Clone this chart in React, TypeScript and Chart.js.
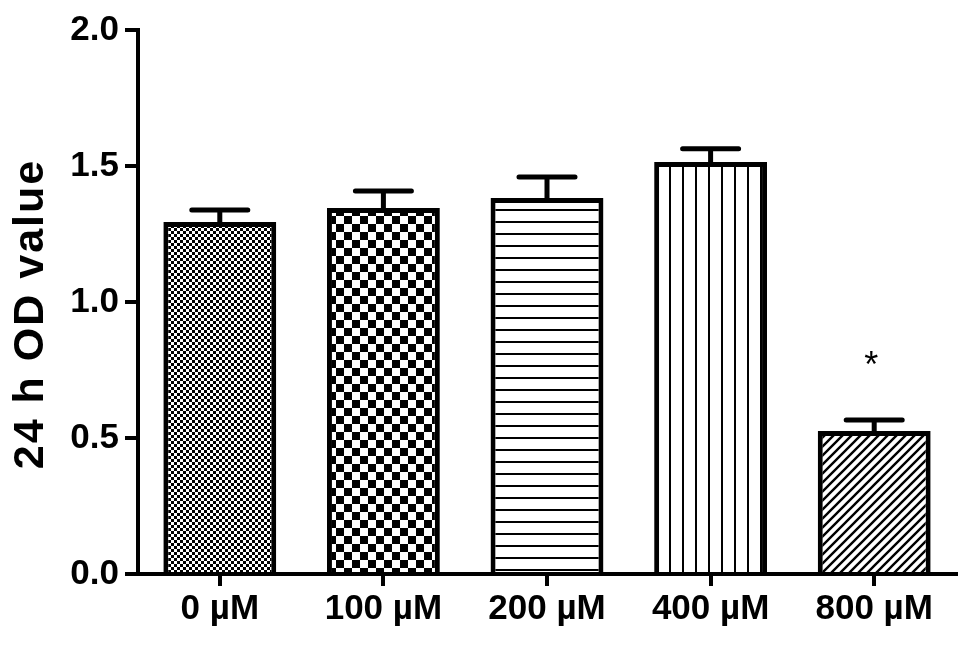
import React, { useEffect, useRef } from "react";
import { Chart, registerables } from "chart.js";

Chart.register(...registerables);

const categories = ["0 µM", "100 µM", "200 µM", "400 µM", "800 µM"];
const means = [1.294, 1.346, 1.382, 1.515, 0.526];
const sems = [0.044, 0.062, 0.078, 0.048, 0.04];
const marks = ["", "", "", "", "*"];
const yMin = 0;
const yMax = 2.0;
const yStep = 0.5;
const yTitle = "24 h OD value";

const FONT = "'Liberation Sans', Arial, sans-serif";

function makePattern(kind: number): CanvasPattern | string {
  const c = document.createElement("canvas");
  const ctx = c.getContext("2d")!;
  if (kind === 0) {
    c.width = 6; c.height = 6;
    ctx.fillStyle = "#fff"; ctx.fillRect(0, 0, 6, 6);
    ctx.fillStyle = "#000";
    ctx.fillRect(0, 0, 3, 3);
    ctx.fillRect(3, 3, 3, 3);
  } else if (kind === 1) {
    c.width = 16; c.height = 16;
    ctx.fillStyle = "#fff"; ctx.fillRect(0, 0, 16, 16);
    ctx.fillStyle = "#000";
    ctx.fillRect(0, 0, 8, 8);
    ctx.fillRect(8, 8, 8, 8);
  } else if (kind === 2) {
    c.width = 12; c.height = 12;
    ctx.fillStyle = "#fff"; ctx.fillRect(0, 0, 12, 12);
    ctx.fillStyle = "#000";
    ctx.fillRect(0, 5, 12, 2);
  } else if (kind === 3) {
    c.width = 13; c.height = 13;
    ctx.fillStyle = "#fff"; ctx.fillRect(0, 0, 13, 13);
    ctx.fillStyle = "#000";
    ctx.fillRect(6, 0, 2, 13);
  } else {
    const s = 9;
    c.width = s; c.height = s;
    ctx.fillStyle = "#fff"; ctx.fillRect(0, 0, s, s);
    ctx.strokeStyle = "#000";
    ctx.lineWidth = 2.4;
    ctx.beginPath();
    for (let k = -1; k <= 1; k++) {
      ctx.moveTo(k * s - 1, s + 1);
      ctx.lineTo(k * s + s + 1, -1);
    }
    ctx.stroke();
  }
  const p = ctx.createPattern(c, "repeat");
  return p || "#888";
}

const errorBarPlugin = {
  id: "errorBars",
  afterDatasetsDraw(chart: any) {
    const ctx = chart.ctx;
    const meta = chart.getDatasetMeta(0);
    const yScale = chart.scales.y;
    ctx.save();
    ctx.strokeStyle = "#000";
    ctx.lineWidth = 5;
    ctx.lineCap = "round";
    meta.data.forEach((el: any, i: number) => {
      const x = el.x;
      const yTop = yScale.getPixelForValue(means[i]);
      const yErr = yScale.getPixelForValue(means[i] + sems[i]);
      ctx.beginPath();
      ctx.moveTo(x, yTop);
      ctx.lineTo(x, yErr);
      ctx.moveTo(x - 28, yErr);
      ctx.lineTo(x + 28, yErr);
      ctx.stroke();
      if (marks[i]) {
        ctx.fillStyle = "#000";
        ctx.font = `normal 36px ${FONT}`;
        ctx.textAlign = "center";
        ctx.textBaseline = "alphabetic";
        ctx.fillText(marks[i], x - 3, yErr - 43);
      }
    });
    ctx.restore();
  },
};

const yTitlePlugin = {
  id: "yTitleText",
  afterDraw(chart: any) {
    const ctx = chart.ctx;
    const yScale = chart.scales.y;
    const cy = (yScale.top + yScale.bottom) / 2 + 13;
    ctx.save();
    ctx.translate(43, cy);
    ctx.rotate(-Math.PI / 2);
    ctx.fillStyle = "#000";
    ctx.font = `bold 43px ${FONT}`;
    try { (ctx as any).letterSpacing = "2px"; } catch (e) {}
    ctx.textAlign = "center";
    ctx.textBaseline = "alphabetic";
    ctx.fillText(yTitle, 1, 0);
    ctx.restore();
  },
};

export default function App() {
  const ref = useRef<HTMLCanvasElement>(null);
  useEffect(() => {
    if (!ref.current) return;
    const patterns = categories.map((_, i) => makePattern(i));
    const chart = new Chart(ref.current, {
      type: "bar",
      data: {
        labels: categories,
        datasets: [
          {
            data: means,
            backgroundColor: patterns as any,
            borderColor: "#000",
            borderWidth: 5,
            borderSkipped: "bottom",
            barPercentage: 0.69,
            categoryPercentage: 1,
          },
        ],
      },
      options: {
        responsive: false,
        animation: false,
        devicePixelRatio: 1,
        layout: { padding: { top: 30, right: 13, left: 0, bottom: 0 } },
        plugins: {
          legend: { display: false },
          tooltip: { enabled: false },
        },
        scales: {
          x: {
            type: "category",
            offset: true,
            grid: {
              display: true,
              offset: false,
              drawOnChartArea: false,
              drawTicks: true,
              tickLength: 12,
              lineWidth: 4,
              color: "#000",
            },
            border: { display: true, width: 4, color: "#000" },
            ticks: {
              color: "#000",
              padding: 2,
              font: { family: FONT, size: 35, weight: "bold" },
            },
            afterFit(scale: any) {
              scale.height = 71;
            },
          },
          y: {
            min: yMin,
            max: yMax,
            grid: {
              display: true,
              drawOnChartArea: false,
              drawTicks: true,
              tickLength: 13,
              lineWidth: 4,
              color: "#000",
            },
            border: { display: true, width: 4, color: "#000" },
            ticks: {
              stepSize: yStep,
              color: "#000",
              padding: 6,
              font: { family: FONT, size: 35, weight: "bold" },
              callback: (v: any) => Number(v).toFixed(1),
            },
            title: { display: false },
            afterFit(scale: any) {
              scale.width = 138;
            },
          },
        },
      },
      plugins: [errorBarPlugin, yTitlePlugin],
    });
    return () => chart.destroy();
  }, []);
  return (
    <div style={{ position: "absolute", left: 0, top: 0, width: 969, height: 645, background: "#fff" }}>
      <canvas ref={ref} width={969} height={645} style={{ display: "block" }} />
    </div>
  );
}
